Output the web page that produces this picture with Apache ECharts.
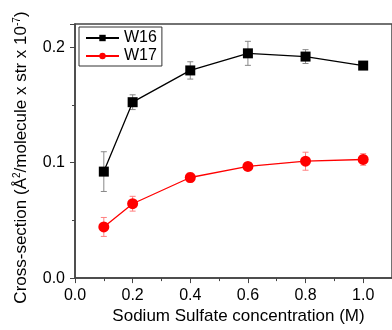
<!DOCTYPE html>
<html>
<head>
<meta charset="utf-8">
<script src="https://cdn.jsdelivr.net/npm/echarts@6/dist/echarts.min.js"></script>
<style>
  html, body { margin: 0; padding: 0; background: #fff; }
  #main { width: 392px; height: 330px; }
</style>
</head>
<body>
<div id="main"></div>
<script>
// concentration (M)
const concentration = [0.1, 0.2, 0.4, 0.6, 0.8, 1.0];
// cross-section values and error bars
const w16 = [0.0922, 0.1523, 0.1798, 0.1946, 0.1918, 0.1840];
const w16Err = [0.0172, 0.0064, 0.0075, 0.0104, 0.0060, 0.0030];
const w17 = [0.0443, 0.0644, 0.0871, 0.0967, 0.1012, 0.1027];
const w17Err = [0.0082, 0.0064, 0.0040, 0.0025, 0.0078, 0.0050];

const font = "Liberation Sans, Arial, sans-serif";

const chart = echarts.init(document.getElementById("main"));

// error bars drawn through the axes
const errorBar = (values, errs, color) => ({
  type: "custom",
  z: 1,
  silent: true,
  data: concentration.map((x, i) => [x, values[i] - errs[i], values[i] + errs[i]]),
  renderItem: function (params, api) {
    const lo = api.coord([api.value(0), api.value(1)]);
    const hi = api.coord([api.value(0), api.value(2)]);
    const w = 3;
    const style = { stroke: color, lineWidth: 1 };
    return {
      type: "group",
      children: [
        { type: "line", shape: { x1: lo[0], y1: lo[1], x2: hi[0], y2: hi[1] }, style: style },
        { type: "line", shape: { x1: lo[0] - w, y1: lo[1], x2: lo[0] + w, y2: lo[1] }, style: style },
        { type: "line", shape: { x1: hi[0] - w, y1: hi[1], x2: hi[0] + w, y2: hi[1] }, style: style },
      ],
    };
  },
});

const option = {
  animation: false,
  textStyle: { fontFamily: font },
  grid: {
    left: 75,
    top: 24,
    bottom: 47,
    width: 319,
    show: true,
    borderColor: "#444",
    borderWidth: 1.5,
  },
  legend: {
    left: 79,
    top: 27,
    orient: "vertical",
    itemWidth: 33,
    itemHeight: 8,
    itemGap: 2,
    padding: [3, 5, 2, 6],
    borderColor: "#333",
    borderWidth: 1,
    textStyle: { fontSize: 16, color: "#000", fontFamily: font },
    data: ["W16", "W17"],
  },
  xAxis: {
    type: "value",
    min: 0,
    max: 1.1,
    interval: 0.2,
    name: "Sodium Sulfate concentration (M)",
    nameLocation: "middle",
    nameGap: 29,
    nameTextStyle: { fontSize: 17, color: "#000", padding: [0, 0, 0, 10] },
    axisLine: { lineStyle: { color: "#444", width: 1.5 } },
    axisTick: { inside: false, length: 5, lineStyle: { color: "#444" } },
    minorTick: { show: true, splitNumber: 2, length: 3, lineStyle: { color: "#444" } },
    splitLine: { show: false },
    axisLabel: {
      fontSize: 16,
      color: "#000",
      margin: 9,
      showMaxLabel: false,
      formatter: (v) => v.toFixed(1),
    },
  },
  yAxis: {
    type: "value",
    min: 0,
    max: 0.22,
    interval: 0.1,
    name: "{t|Cross-section (Å}{s|2}{t|/molecule x str x 10}{s|-7}{t|)}",
    nameLocation: "middle",
    nameGap: 44,
    nameTextStyle: {
      padding: [0, 13, 0, 0],
      rich: {
        t: { fontSize: 17, color: "#000", fontFamily: font, lineHeight: 19 },
        s: { fontSize: 10, color: "#000", fontFamily: font, verticalAlign: "top", lineHeight: 19 },
      },
    },
    axisLine: { lineStyle: { color: "#444", width: 1.5 } },
    axisTick: { inside: false, length: 5, lineStyle: { color: "#444" } },
    minorTick: { show: true, splitNumber: 2, length: 3, lineStyle: { color: "#444" } },
    splitLine: { show: false },
    axisLabel: {
      fontSize: 16,
      color: "#000",
      margin: 10,
      showMaxLabel: false,
      formatter: (v) => v.toFixed(1),
    },
  },
  series: [
    errorBar(w16, w16Err, "#888"),
    errorBar(w17, w17Err, "#ff8080"),
    {
      name: "W16",
      type: "line",
      z: 3,
      data: concentration.map((x, i) => [x, w16[i]]),
      symbol: "rect",
      symbolSize: 10,
      itemStyle: { color: "#000" },
      lineStyle: { color: "#000", width: 1.3 },
    },
    {
      name: "W17",
      type: "line",
      z: 3,
      data: concentration.map((x, i) => [x, w17[i]]),
      symbol: "circle",
      symbolSize: 11,
      itemStyle: { color: "#ff0000" },
      lineStyle: { color: "#ff0000", width: 1.3 },
    },
  ],
};

chart.setOption(option);
</script>
</body>
</html>
